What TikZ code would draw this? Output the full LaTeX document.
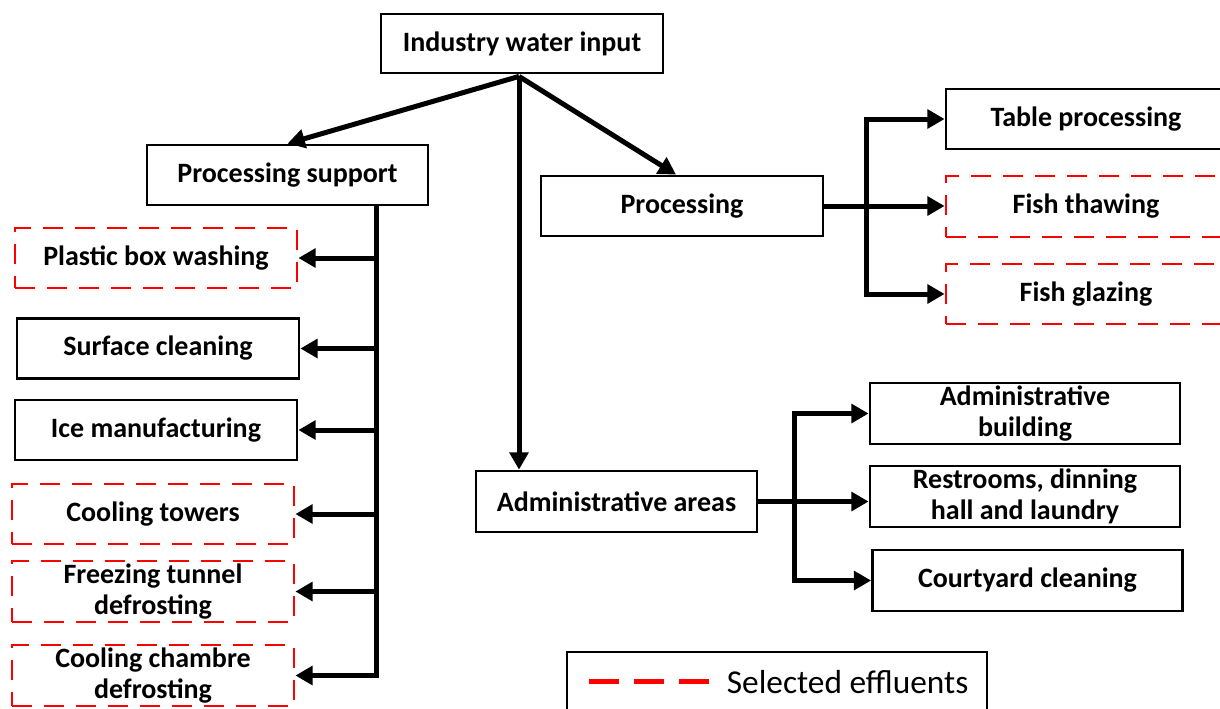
\documentclass[tikz,border=0pt]{standalone}
\usepackage{fontspec}
\setmainfont{Carlito}
\usetikzlibrary{arrows.meta,calc}
\definecolor{effred}{RGB}{255,0,0}
\tikzset{
  box/.style={draw, line width=2.1pt, inner sep=0pt, align=center,
    minimum height=45pt, minimum width=211.5pt,
    font=\bfseries\fontsize{21}{23.5}\selectfont},
  redbox/.style={box, draw=effred, line width=2.1pt, dash pattern=on 15pt off 9pt},
  arr/.style={line width=3.75pt, -{Triangle[length=13pt,width=14pt]}},
  legline/.style={draw=effred, line width=3.75pt, dash pattern=on 22.5pt off 11.25pt}
}
\begin{document}
\begin{tikzpicture}[x=0.75pt,y=-0.75pt]
\useasboundingbox (0,0) rectangle (1220,708);
% top
\node[box, minimum height=44.25pt] (ind) at (522,43.5) {Industry water input};
\node[box, minimum width=210.75pt] (ps) at (287.5,175) {Processing support};
\node[box] (proc) at (682,206) {Processing};
\node[box, minimum width=210.75pt, minimum height=45.75pt] (adm) at (616.5,501.5) {Administrative areas};
% processing outputs
\node[box, minimum width=210pt] (tab) at (1086,119) {Table processing};
\node[redbox, minimum width=210pt, minimum height=45.75pt] (thaw) at (1086,206.5) {Fish thawing};
\node[redbox, minimum width=210pt] (glaze) at (1086,294) {Fish glazing};
% processing support outputs
\node[redbox] (pbw) at (156,258) {Plastic box washing};
\node[box] (surf) at (158,348.5) {Surface cleaning};
\node[box] (ice) at (156,430) {Ice manufacturing};
\node[redbox] (cool) at (153,514) {Cooling towers};
\node[redbox, minimum height=45.75pt] (freeze) at (153,591.5) {Freezing tunnel\\defrosting};
\node[redbox, minimum height=45.75pt] (chamb) at (153,675.5) {Cooling chambre\\defrosting};
% administrative outputs
\node[box, minimum width=232.5pt, minimum height=45.75pt] (admb) at (1025,413.5) {Administrative\\building};
\node[box, minimum width=232.5pt, minimum height=45.75pt] (rest) at (1025,496.5) {Restrooms, dinning\\hall and laundry};
\node[box, minimum width=232.5pt, minimum height=45.75pt] (court) at (1027.5,580.5) {Courtyard cleaning};
% legend
\node[draw, line width=2.1pt, minimum width=315pt, minimum height=47.25pt, inner sep=0pt] (leg) at (777,683.5) {};
\node[anchor=west, inner sep=0pt, font=\fontsize{25}{29}\selectfont] (legt) at ($(leg.west)+(161,-1)$) {Selected effluents};
\draw[legline] ($(leg.west)+(23,-2)$) -- ($(leg.west)+(145,-2)$);
% connectors from input
\coordinate (src) at ($(ind.south)+(-3,2)$);
\draw[arr] (src) -- (ps.north);
\draw[arr] (src) -- ($(proc.north)+(-6,0)$);
\draw[arr] (src) -- (src |- adm.north);
% processing support tree
\path (ps.south) ++(88.5,0) coordinate (pst);
\draw[arr] (pst) |- (chamb.east);
\draw[arr] (pst |- pbw.east) -- (pbw.east);
\draw[arr] (pst |- surf.east) -- (surf.east);
\draw[arr] (pst |- ice.east) -- (ice.east);
\draw[arr] (pst |- cool.east) -- (cool.east);
\draw[arr] (pst |- freeze.east) -- (freeze.east);
% processing tree
\path (proc.east) ++(42,0) coordinate (pt);
\draw[arr] (proc.east) -- (pt) |- (tab.west);
\draw[arr] (proc.east) -- (pt) |- (glaze.west);
\draw[arr] (proc.east) -- (proc.east -| thaw.west);
% administrative tree
\path (adm.east) ++(36,0) coordinate (at);
\draw[arr] (adm.east) -- (at) |- (admb.west);
\draw[arr] (adm.east) -- (at) |- (court.west);
\draw[arr] (adm.east) -- (adm.east -| rest.west);
\end{tikzpicture}
\end{document}
